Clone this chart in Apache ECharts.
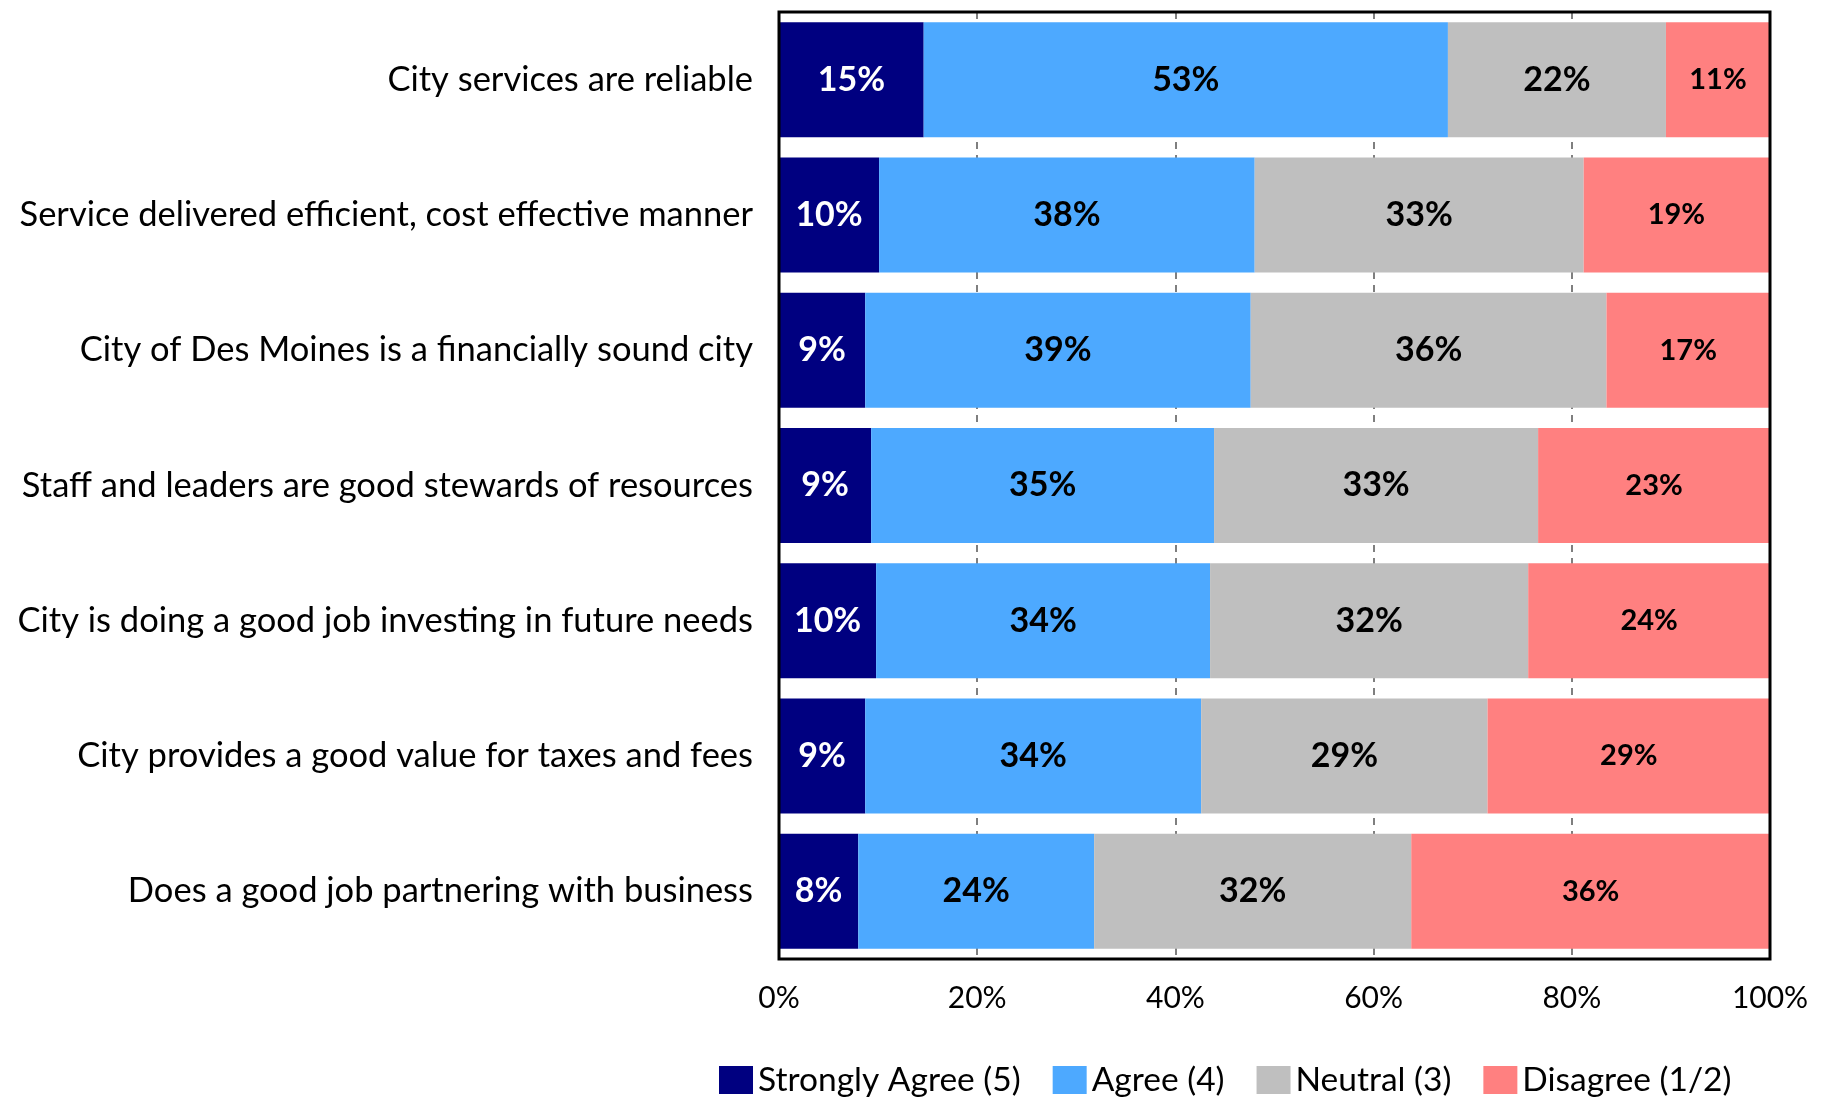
<!DOCTYPE html>
<html>
<head>
<meta charset="utf-8">
<script src="https://cdn.jsdelivr.net/npm/echarts@6/dist/echarts.min.js"></script>
<style>
  html, body { margin: 0; padding: 0; background: #fff; }
  #chart { width: 1831px; height: 1099px; }
</style>
</head>
<body>
<div id="chart"></div>
<script>
// statements, top to bottom
var categories = [
  'City services are reliable',
  'Service delivered efficient, cost effective manner',
  'City of Des Moines is a financially sound city',
  'Staff and leaders are good stewards of resources',
  'City is doing a good job investing in future needs',
  'City provides a good value for taxes and fees',
  'Does a good job partnering with business'
]

// percentages
var stronglyAgree = [14.6, 10.1, 8.7, 9.3, 9.8, 8.7, 8.0]
var agree = [52.9, 37.9, 38.9, 34.6, 33.7, 33.9, 23.8]
var neutral = [22.0, 33.2, 35.9, 32.7, 32.1, 28.9, 32.0]
var disagree = [10.5, 18.7, 16.5, 23.4, 24.4, 28.5, 36.2]

var seriesNames = ['Strongly Agree (5)', 'Agree (4)', 'Neutral (3)', 'Disagree (1/2)']
var xTicks = [0, 20, 40, 60, 80, 100]

var font = 'Lato'

var chart = echarts.init(document.getElementById('chart'))

function pct(p) {
  return Math.round(p.value + 1e-9) + '%'
}

function makeSeries(name, data, color, labelColor, labelSize) {
  return {
    name: name,
    type: 'bar',
    stack: 'total',
    data: data,
    barCategoryGap: '15%',
    itemStyle: { color: color },
    label: {
      show: true,
      position: 'inside',
      formatter: pct,
      color: labelColor,
      fontFamily: font,
      fontWeight: 'bold',
      fontSize: labelSize
    }
  }
}

chart.setOption({
  animation: false,
  textStyle: { fontFamily: font },
  grid: {
    left: 779,
    right: 61,
    top: 12,
    bottom: 140,
    show: true,
    z: 10,
    borderColor: '#000',
    borderWidth: 3,
    backgroundColor: 'transparent'
  },
  legend: {
    data: seriesNames,
    left: 719,
    top: 1063,
    padding: 0,
    icon: 'rect',
    itemWidth: 34,
    itemHeight: 28,
    itemGap: 32,
    textStyle: { fontFamily: font, fontSize: 33.5, color: '#000' }
  },
  xAxis: {
    type: 'value',
    min: 0,
    max: 100,
    interval: 20,
    axisLine: { show: false },
    axisTick: { show: false },
    axisLabel: {
      margin: 24,
      fontFamily: font,
      fontSize: 30,
      color: '#000',
      formatter: function (v) { return xTicks.indexOf(v) >= 0 ? v + '%' : '' }
    },
    splitLine: {
      show: true,
      lineStyle: { color: '#555', type: [7, 6], width: 1.5 }
    }
  },
  yAxis: {
    type: 'category',
    data: categories,
    inverse: true,
    axisLine: { show: false },
    axisTick: { show: false },
    axisLabel: {
      margin: 26,
      fontFamily: font,
      fontSize: 34.5,
      color: '#000'
    }
  },
  series: [
    makeSeries(seriesNames[0], stronglyAgree, '#000080', '#fff', 34),
    makeSeries(seriesNames[1], agree, '#4DA9FF', '#000', 34),
    makeSeries(seriesNames[2], neutral, '#BFBFBF', '#000', 34),
    makeSeries(seriesNames[3], disagree, '#FF8080', '#000', 29)
  ]
})
</script>
</body>
</html>
